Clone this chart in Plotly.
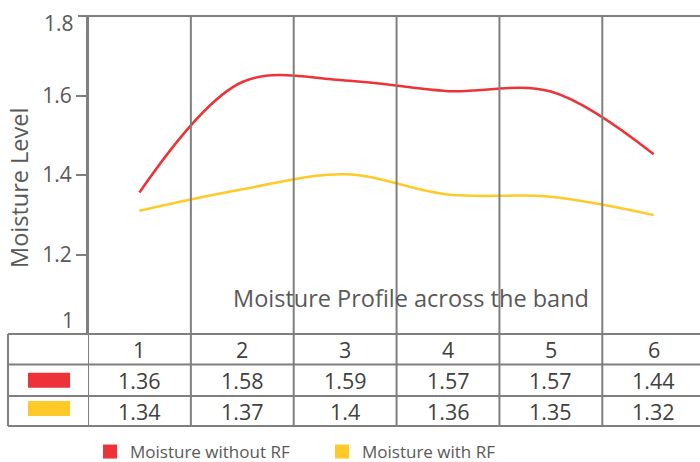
import plotly.graph_objects as go

# ---- data ----
categories = [1, 2, 3, 4, 5, 6]
series_names = ["Moisture without RF", "Moisture with RF"]
# values shown in the data table
table_without_rf = ["1.36", "1.58", "1.59", "1.57", "1.57", "1.44"]
table_with_rf = ["1.34", "1.37", "1.4", "1.36", "1.35", "1.32"]
# values of the drawn curves
line_without_rf = [1.356, 1.634, 1.638, 1.611, 1.610, 1.452]
line_with_rf = [1.310, 1.364, 1.402, 1.351, 1.345, 1.299]
y_tick_vals = [1.2, 1.4, 1.6]
y_tick_text = ["1.2", "1.4", "1.6"]
x_title = "Moisture Profile across the band"
y_title = "Moisture Level"

RED = "#EE3338"
YEL = "#FFCA28"
GRID = "#7F7F7F"
TXT = "#404040"
TICK = "#595959"
FONT = "Open Sans"

W, H = 700, 462
L, R, T, B = 88, 0, 16, 128
PW, PH = W - L - R, H - T - B


def px(x):
    return (x - L) / PW


def py(y):
    return (H - B - y) / PH


fig = go.Figure()
fig.add_trace(go.Scatter(x=categories, y=line_without_rf, mode="lines",
                         line=dict(color=RED, width=2.5, shape="spline", smoothing=1),
                         showlegend=False, hoverinfo="skip"))
fig.add_trace(go.Scatter(x=categories, y=line_with_rf, mode="lines",
                         line=dict(color=YEL, width=2.5, shape="spline", smoothing=1),
                         showlegend=False, hoverinfo="skip"))
for name, col in zip(series_names, [RED, YEL]):
    fig.add_trace(go.Scatter(x=[None], y=[None], mode="markers", name=name,
                             marker=dict(symbol="square", size=14, color=col)))

shapes = []
row_y = [334, 364.5, 396, 426]
bottom = py(row_y[-1])
# vertical lines (category boundaries) through the plot and the table
for i in range(len(categories)):
    xb = categories[i] - 0.5
    shapes.append(dict(type="line", xref="x", yref="paper", x0=xb, x1=xb,
                       y0=bottom, y1=1, line=dict(color=GRID, width=2)))
# left edge of table
shapes.append(dict(type="line", xref="paper", yref="paper", x0=px(8), x1=px(8),
                   y0=bottom, y1=py(row_y[0]), line=dict(color=GRID, width=2)))
# horizontal table lines
for yy in row_y:
    shapes.append(dict(type="line", xref="paper", yref="paper", x0=px(8), x1=1,
                       y0=py(yy), y1=py(yy), line=dict(color=GRID, width=2)))
# top border of plot (with top tick)
shapes.append(dict(type="line", xref="paper", yref="paper", x0=px(78), x1=1,
                   y0=1, y1=1, line=dict(color=GRID, width=2)))
# colour keys in table
for col, (y0, y1) in zip([RED, YEL], [(372.7, 387.7), (401, 416)]):
    shapes.append(dict(type="rect", xref="paper", yref="paper", x0=px(28), x1=px(70),
                       y0=py(y1), y1=py(y0), line=dict(width=0), fillcolor=col))

ann = []
centers = [(row_y[i] + row_y[i + 1]) / 2 for i in range(3)]
for c, a, b in zip(categories, table_without_rf, table_with_rf):
    for txt, yc in zip([str(c), a, b], centers):
        ann.append(dict(x=c, y=py(yc), xref="x", yref="paper", text=txt, showarrow=False,
                        font=dict(family=FONT, size=21.5, color=TXT),
                        xanchor="center", yanchor="middle"))
ann.append(dict(x=px(411), y=py(298), xref="paper", yref="paper", text=x_title,
                showarrow=False, font=dict(family=FONT, size=23.5, color=TICK),
                xanchor="center", yanchor="middle"))
ann.append(dict(x=px(19), y=py(188), xref="paper", yref="paper", text=y_title,
                textangle=-90, showarrow=False, font=dict(family=FONT, size=23.5, color=TICK),
                xanchor="center", yanchor="middle"))
# end labels of the value axis, nudged inwards as in the reference
for lab, yc in [("1", 320), ("1.8", 22.5)]:
    ann.append(dict(x=px(76), y=py(yc), xref="paper", yref="paper", text=lab,
                    showarrow=False, font=dict(family=FONT, size=21, color=TICK),
                    xanchor="right", yanchor="middle"))

fig.update_layout(
    width=W, height=H,
    margin=dict(l=L, r=R, t=T, b=B, autoexpand=False),
    paper_bgcolor="white", plot_bgcolor="white",
    shapes=shapes, annotations=ann,
    xaxis=dict(range=[0.5, 6.45], showticklabels=False, showgrid=False,
               zeroline=False, showline=False, ticks="", automargin=False),
    yaxis=dict(range=[1.0, 1.8], tickvals=y_tick_vals, ticktext=y_tick_text,
               showgrid=False, zeroline=False, showline=True, linecolor=GRID, linewidth=2,
               ticks="outside", ticklen=10, tickwidth=2, tickcolor=GRID, automargin=False,
               ticklabeloverflow="allow",
               tickfont=dict(family=FONT, size=21, color=TICK)),
    showlegend=True,
    legend=dict(orientation="h", xref="container", yref="container",
                x=90 / W, y=1 - 452 / H, xanchor="left", yanchor="middle",
                font=dict(family=FONT, size=17, color=TICK), bgcolor="rgba(0,0,0,0)",
                itemwidth=30, entrywidth=187),
)

fig.write_html("out.html", config={"displayModeBar": False},
               post_script="document.body.style.margin='0';")
